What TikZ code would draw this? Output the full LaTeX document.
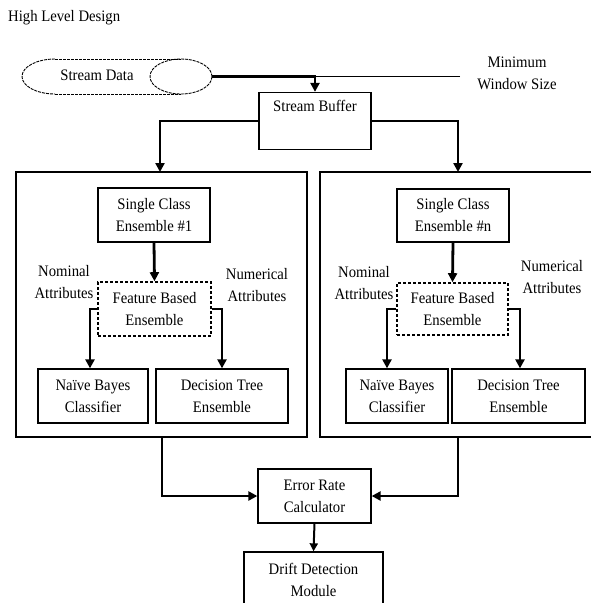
\documentclass[tikz,border=0pt]{standalone}
\usepackage{fontspec}
\setmainfont[FakeStretch=0.92]{Liberation Serif}
\usetikzlibrary{arrows.meta}
\begin{document}
\begin{tikzpicture}[x=1pt,y=-1pt,
  font=\fontsize{16}{22}\selectfont,
  box/.style={draw, line width=1.3pt, align=center, inner sep=0pt},
  dbox/.style={box, line width=1.6pt, dash pattern=on 3pt off 2pt},
  frame/.style={draw, line width=1.4pt, inner sep=0pt},
  flow/.style={line width=2.8pt, -{Triangle[width=9pt,length=9pt]}},
  thinflow/.style={line width=2pt, -{Triangle[width=8pt,length=8pt]}},
  lbl/.style={align=center, inner sep=0pt},
  cyl/.style={line width=0.9pt, dash pattern=on 3pt off 1pt}]
\useasboundingbox (0,0) rectangle (591,603);

% title
\node[lbl, anchor=west] (title) at (8,18) {High Level Design};

% stream data cylinder
\draw[cyl] (55,59) -- (181,59);
\draw[cyl] (55,94) -- (181,94);
\draw[cyl] (55,59) arc[start angle=90, end angle=270, x radius=33pt, y radius=17.5pt];
\draw[cyl] (181,76.5) ellipse [x radius=31pt, y radius=17.5pt];
\node[lbl] (sd) at (97,75) {Stream Data};
\coordinate (sdr) at (212,76.5);

% minimum window size
\node[lbl] (mws) at (517,73) {Minimum\\Window Size};
\coordinate (mwsend) at (460,76.5);

% stream buffer
\node[box, minimum width=112pt, minimum height=57pt,
  label={[lbl, anchor=north, yshift=-8pt]north:Stream Buffer}] (sb) at (315,121) {};

% containers
\node[frame, minimum width=291pt, minimum height=265pt] (cont1) at (161.5,304.5) {};
\draw[line width=1.4pt] (600,172) -- (320,172) -- (320,437) -- (600,437);
\coordinate (in2) at (458,172);
\coordinate (out2) at (458,437);
\coordinate (in1) at (160,172);
\coordinate (out1) at (162,437);

% left ensemble
\node[box, minimum width=112pt, minimum height=54pt] (sc1) at (154,215) {Single Class\\Ensemble \#1};
\node[dbox, minimum width=113pt, minimum height=54pt] (fb1) at (154.5,309) {Feature Based\\Ensemble};
\node[box, minimum width=110pt, minimum height=54pt] (nb1) at (93,396) {Naïve Bayes\\Classifier};
\node[box, minimum width=132pt, minimum height=54pt] (dt1) at (222,396) {Decision Tree\\Ensemble};
\node[lbl] (nom1) at (64,282) {Nominal\\Attributes};
\node[lbl] (num1) at (257,285) {Numerical\\Attributes};

% right ensemble
\node[box, minimum width=112pt, minimum height=53pt] (sc2) at (453,215.5) {Single Class\\Ensemble \#n};
\node[dbox, minimum width=111pt, minimum height=52pt] (fb2) at (452.5,309) {Feature Based\\Ensemble};
\node[box, minimum width=102pt, minimum height=54pt] (nb2) at (397,396) {Naïve Bayes\\Classifier};
\node[box, minimum width=133pt, minimum height=54pt] (dt2) at (518.5,396) {Decision Tree\\Ensemble};
\node[lbl] (nom2) at (364,283) {Nominal\\Attributes};
\node[lbl] (num2) at (552,277) {Numerical\\Attributes};

% bottom
\node[box, minimum width=113pt, minimum height=54pt] (er) at (314.5,496) {Error Rate\\Calculator};
\node[box, minimum width=139pt, minimum height=56pt] (dd) at (313.5,580) {Drift Detection\\Module};

% connectors
\draw[flow] (sdr) -| (sb.north);
\draw[line width=1.2pt] (mwsend) -- (sb.north |- mwsend);
\draw[flow] (sb.west) -| (in1);
\draw[flow] (sb.east) -| (in2);
\draw[flow] (sc1.south) -- (fb1.north);
\draw[flow] (fb1.west) -| ([xshift=-3pt]nb1.north);
\draw[flow] (fb1.east) -| (dt1.north);
\draw[flow] (sc2.south) -- (fb2.north);
\draw[flow] (fb2.west) -| ([xshift=-10pt]nb2.north);
\draw[flow] (fb2.east) -| ([xshift=1.5pt]dt2.north);
\draw[flow] (out1) |- (er.west);
\draw[flow] (out2) |- (er.east);
\draw[thinflow] (er.south) -- (dd.north);
\end{tikzpicture}
\end{document}
